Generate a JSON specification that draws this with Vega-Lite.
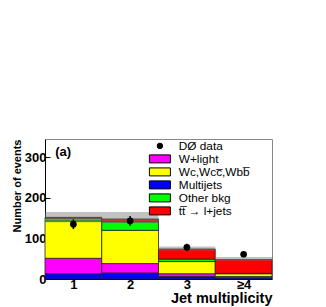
{
  "$schema": "https://vega.github.io/schema/vega-lite/v6.json",
  "width": 227,
  "height": 140,
  "autosize": "none",
  "padding": {"left": 45, "top": 139, "right": 54, "bottom": 28},
  "config": {
    "font": "Liberation Sans",
    "view": {"stroke": "#888", "strokeWidth": 1},
    "axis": {
      "domainColor": "black",
      "tickColor": "black",
      "labelFont": "Liberation Sans",
      "labelFontWeight": "bold",
      "labelFontSize": 13,
      "labelColor": "black",
      "titleFont": "Liberation Sans",
      "titleFontWeight": "bold",
      "titleFontSize": 11,
      "titleColor": "black",
      "grid": false,
      "tickSize": -5
    }
  },
  "datasets": {
    "stack": [
      {"bin": 1, "lo": 0.5, "hi": 1.5, "comp": "Multijets", "ord": 1, "value": 13},
      {"bin": 1, "lo": 0.5, "hi": 1.5, "comp": "W+light", "ord": 2, "value": 38},
      {"bin": 1, "lo": 0.5, "hi": 1.5, "comp": "Wc,Wcc̅,Wbb̅", "ord": 3, "value": 92},
      {"bin": 1, "lo": 0.5, "hi": 1.5, "comp": "Other bkg", "ord": 4, "value": 7},
      {"bin": 1, "lo": 0.5, "hi": 1.5, "comp": "tt̅ → l+jets", "ord": 5, "value": 2},
      {"bin": 2, "lo": 1.5, "hi": 2.5, "comp": "Multijets", "ord": 1, "value": 15},
      {"bin": 2, "lo": 1.5, "hi": 2.5, "comp": "W+light", "ord": 2, "value": 23},
      {"bin": 2, "lo": 1.5, "hi": 2.5, "comp": "Wc,Wcc̅,Wbb̅", "ord": 3, "value": 82},
      {"bin": 2, "lo": 1.5, "hi": 2.5, "comp": "Other bkg", "ord": 4, "value": 21},
      {"bin": 2, "lo": 1.5, "hi": 2.5, "comp": "tt̅ → l+jets", "ord": 5, "value": 7},
      {"bin": 3, "lo": 2.5, "hi": 3.5, "comp": "Multijets", "ord": 1, "value": 6},
      {"bin": 3, "lo": 2.5, "hi": 3.5, "comp": "W+light", "ord": 2, "value": 7},
      {"bin": 3, "lo": 2.5, "hi": 3.5, "comp": "Wc,Wcc̅,Wbb̅", "ord": 3, "value": 30},
      {"bin": 3, "lo": 2.5, "hi": 3.5, "comp": "Other bkg", "ord": 4, "value": 6},
      {"bin": 3, "lo": 2.5, "hi": 3.5, "comp": "tt̅ → l+jets", "ord": 5, "value": 25},
      {"bin": 4, "lo": 3.5, "hi": 4.5, "comp": "Multijets", "ord": 1, "value": 3},
      {"bin": 4, "lo": 3.5, "hi": 4.5, "comp": "W+light", "ord": 2, "value": 3},
      {"bin": 4, "lo": 3.5, "hi": 4.5, "comp": "Wc,Wcc̅,Wbb̅", "ord": 3, "value": 7},
      {"bin": 4, "lo": 3.5, "hi": 4.5, "comp": "Other bkg", "ord": 4, "value": 1},
      {"bin": 4, "lo": 3.5, "hi": 4.5, "comp": "tt̅ → l+jets", "ord": 5, "value": 34}
    ],
    "band": [
      {"bin": 1, "lo": 0.5, "hi": 1.5, "down": 140, "up": 165},
      {"bin": 2, "lo": 1.5, "hi": 2.5, "down": 138, "up": 165},
      {"bin": 3, "lo": 2.5, "hi": 3.5, "down": 70, "up": 80},
      {"bin": 4, "lo": 3.5, "hi": 4.5, "down": 45, "up": 54}
    ],
    "obs": [
      {"bin": 1, "n": 135, "elo": 123, "ehi": 147},
      {"bin": 2, "n": 143, "elo": 131, "ehi": 155},
      {"bin": 3, "n": 78, "elo": 69, "ehi": 87},
      {"bin": 4, "n": 61, "elo": 54, "ehi": 68}
    ],
    "tag": [{"x": 0.68, "y": 312, "t": "(a)"}]
  },
  "layer": [
    {
      "data": {"name": "stack"},
      "transform": [
        {"stack": "value", "groupby": ["bin"], "sort": [{"field": "ord"}], "as": ["y0", "y1"]}
      ],
      "mark": {"type": "rect", "stroke": "#222", "strokeWidth": 0.8},
      "encoding": {
        "x": {
          "field": "lo", "type": "quantitative",
          "scale": {"domain": [0.5, 4.5], "nice": false, "zero": false},
          "axis": {"values": [1, 2, 3, 4], "format": "d", "labelExpr": "datum.value == 4 ? '≥4' : datum.label", "title": "Jet multiplicity", "titleAnchor": "end", "labelPadding": 4, "titlePadding": 0.5, "titleFontSize": 14.5}
        },
        "x2": {"field": "hi"},
        "y": {
          "field": "y0", "type": "quantitative",
          "scale": {"domain": [0, 345], "nice": false},
          "axis": {"values": [0, 100, 200, 300], "title": "Number of events", "titleAnchor": "end", "labelPadding": 4, "titlePadding": 2}
        },
        "y2": {"field": "y1"},
        "color": {
          "field": "comp", "type": "nominal",
          "scale": {
            "domain": ["DØ data", "W+light", "Wc,Wcc̅,Wbb̅", "Multijets", "Other bkg", "tt̅ → l+jets"],
            "range": ["#000000", "#ff00ff", "#ffff00", "#0000ff", "#00ff00", "#ff0000"]
          },
          "legend": {
            "orient": "none", "legendX": 109, "legendY": 1, "title": null,
            "padding": 0, "labelFontSize": 11.8, "labelFont": "Liberation Sans", "labelColor": "black",
            "symbolSize": 100, "symbolStrokeColor": "black", "symbolStrokeWidth": 1, "symbolOpacity": 1,
            "rowPadding": -1, "labelOffset": 13,
            "encode": {
              "symbols": {
                "update": {
                  "shape": {"signal": "datum.value === 'DØ data' ? 'circle' : 'M-2.1,-0.8H2.1V0.8H-2.1Z'"},
                  "size": {"signal": "datum.value === 'DØ data' ? 30 : 100"}
                }
              }
            }
          }
        },
        "order": {"field": "ord", "type": "quantitative"}
      }
    },
    {
      "data": {"name": "band"},
      "mark": {"type": "rect", "fill": "#777", "opacity": 0.45},
      "encoding": {
        "x": {"field": "lo", "type": "quantitative"},
        "x2": {"field": "hi"},
        "y": {"field": "down", "type": "quantitative"},
        "y2": {"field": "up"}
      }
    },
    {
      "data": {"name": "obs"},
      "mark": {"type": "rule", "color": "black", "strokeWidth": 1.5},
      "encoding": {
        "x": {"field": "bin", "type": "quantitative"},
        "y": {"field": "elo", "type": "quantitative"},
        "y2": {"field": "ehi"}
      }
    },
    {
      "data": {"name": "obs"},
      "mark": {"type": "circle", "color": "black", "opacity": 1, "size": 45},
      "encoding": {
        "x": {"field": "bin", "type": "quantitative"},
        "y": {"field": "n", "type": "quantitative"}
      }
    },
    {
      "data": {"name": "tag"},
      "mark": {"type": "text", "fontWeight": "bold", "fontSize": 13, "align": "left", "baseline": "middle", "font": "Liberation Sans", "color": "black"},
      "encoding": {
        "x": {"field": "x", "type": "quantitative"},
        "y": {"field": "y", "type": "quantitative"},
        "text": {"field": "t"}
      }
    }
  ]
}
